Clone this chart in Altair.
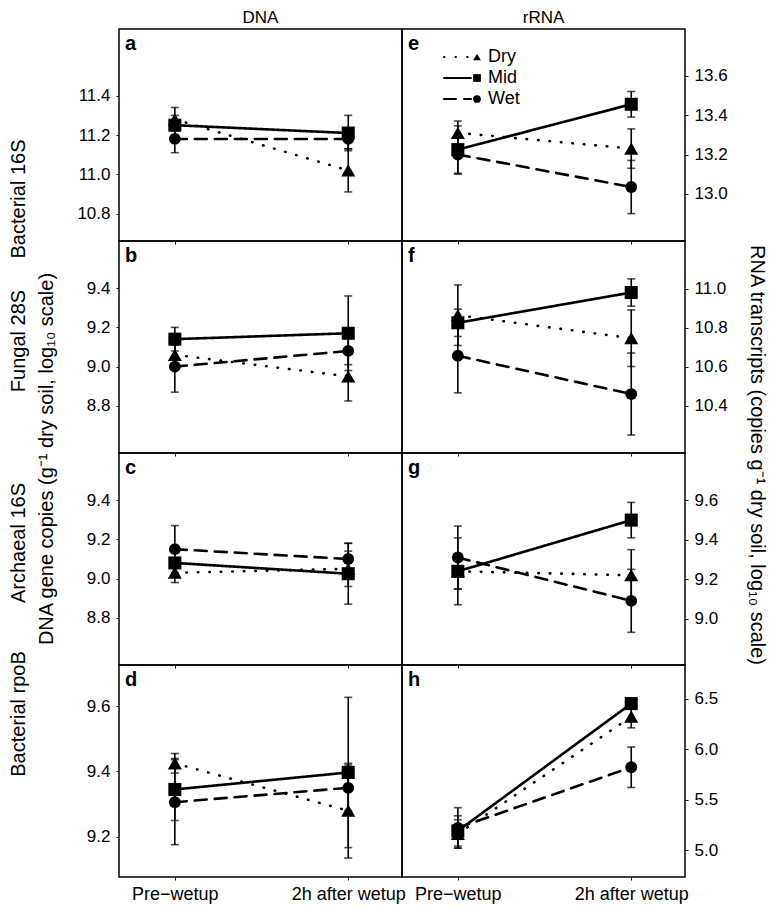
import altair as alt
import pandas as pd

# ---------------- data ----------------
TIME_POS = [1, 2]
TIME_LABELS = ["Pre\u2212wetup", "2h after wetup"]
SERIES = ["Dry", "Mid", "Wet"]
ROW_LABELS = ["Bacterial 16S", "Fungal 28S", "Archaeal 16S", "Bacterial rpoB"]
COL_TITLES = ["DNA", "rRNA"]
LEFT_TITLE = "DNA gene copies (g\u207b\u00b9 dry soil, log\u2081\u2080 scale)"
RIGHT_TITLE = "RNA transcripts (copies g\u207b\u00b9 dry soil, log\u2081\u2080 scale)"

# means / error half-widths: rows = Dry, Mid, Wet ; columns = Pre-wetup, 2h after wetup
a_mean = [[11.28, 11.02], [11.25, 11.21], [11.18, 11.18]]
a_err = [[0.06, 0.11], [0.05, 0.09], [0.07, 0.05]]
b_mean = [[9.06, 8.95], [9.14, 9.17], [9.00, 9.08]]
b_err = [[0.05, 0.125], [0.06, 0.19], [0.13, 0.07]]
c_mean = [[9.03, 9.05], [9.08, 9.025], [9.15, 9.10]]
c_err = [[0.05, 0.09], [0.06, 0.155], [0.12, 0.08]]
d_mean = [[9.425, 9.28], [9.345, 9.397], [9.306, 9.35]]
d_err = [[0.03, 0.145], [0.095, 0.23], [0.13, 0.07]]
e_mean = [[13.31, 13.23], [13.225, 13.455], [13.20, 13.035]]
e_err = [[0.06, 0.10], [0.12, 0.065], [0.10, 0.135]]
f_mean = [[10.864, 10.746], [10.825, 10.98], [10.656, 10.46]]
f_err = [[0.155, 0.145], [0.07, 0.07], [0.19, 0.21]]
g_mean = [[9.24, 9.22], [9.24, 9.50], [9.31, 9.09]]
g_err = [[0.09, 0.13], [0.17, 0.09], [0.16, 0.16]]
h_mean = [[5.16, 6.32], [5.19, 6.45], [5.22, 5.82]]
h_err = [[0.14, 0.11], [0.15, 0.05], [0.20, 0.20]]

a_ticks = [10.8, 11.0, 11.2, 11.4]
b_ticks = [8.8, 9.0, 9.2, 9.4]
c_ticks = [8.8, 9.0, 9.2, 9.4]
d_ticks = [9.2, 9.4, 9.6]
e_ticks = [13.0, 13.2, 13.4, 13.6]
f_ticks = [10.4, 10.6, 10.8, 11.0]
g_ticks = [9.0, 9.2, 9.4, 9.6]
h_ticks = [5.0, 5.5, 6.0, 6.5]

a_dom = [10.66, 11.74]
b_dom = [8.56, 9.64]
c_dom = [8.56, 9.64]
d_dom = [9.077, 9.726]
e_dom = [12.761, 13.837]
f_dom = [10.158, 11.244]
g_dom = [8.764, 9.841]
h_dom = [4.734, 6.832]
X_DOM = [0.678, 2.31]

# ---------------- layout constants ----------------
W, H = 283, 212
FONT = "Liberation Sans"
DASHES = [[0.5, 11], [1, 0], [12, 8]]
SHAPES = ["triangle-up", "square", "circle"]
SIZES = [200, 140, 160]

dash_scale = alt.Scale(domain=SERIES, range=DASHES)
shape_scale = alt.Scale(domain=SERIES, range=SHAPES)
size_scale = alt.Scale(domain=SERIES, range=SIZES)

label_expr = f"datum.value == {TIME_POS[0]} ? '{TIME_LABELS[0]}' : '{TIME_LABELS[1]}'"


def text_layer(label, x, y, size=18, weight="normal", angle=0, align="center", font=FONT):
    return alt.Chart(pd.DataFrame({"label": [label]})).mark_text(
        fontSize=size, fontWeight=weight, angle=angle, align=align,
        baseline="middle", color="black", font=font
    ).encode(x=alt.value(x), y=alt.value(y), text="label:N")


def panel(letter, mean, err, dom, ticks, right, bottom, extras=(), legend=False):
    rows = []
    for si, s in enumerate(SERIES):
        for ti, t in enumerate(TIME_POS):
            m = mean[si][ti]
            e = err[si][ti]
            rows.append({"series": s, "t": t, "mean": m, "lo": m - e, "hi": m + e})
    df = pd.DataFrame(rows)

    xs = alt.Scale(domain=X_DOM, nice=False, zero=False)
    ys = alt.Scale(domain=dom, nice=False, zero=False)
    xaxis = alt.Axis(values=TIME_POS, labelExpr=label_expr, labels=bottom, title=None,
                     grid=False, domain=False, tickSize=3, labelPadding=5,
                     labelFontSize=18, labelFont=FONT, labelColor="black",
                     tickColor="black", labelFlush=False)
    yaxis = alt.Axis(values=ticks, format=".1f", orient="right" if right else "left",
                     title=None, grid=False, domain=False, tickSize=3, labelPadding=6,
                     labelFontSize=17, labelFont=FONT, labelColor="black", tickColor="black")

    base = alt.Chart(df)
    errb = base.mark_errorbar(ticks={"size": 8}, thickness=1.6, color="black").encode(
        x=alt.X("t:Q", scale=xs, axis=xaxis),
        y=alt.Y("lo:Q", scale=ys, axis=yaxis),
        y2="hi:Q",
    )
    line = base.mark_line(color="black", strokeWidth=2.6, strokeCap="round").encode(
        x=alt.X("t:Q", scale=xs, axis=xaxis),
        y=alt.Y("mean:Q", scale=ys, axis=yaxis),
        strokeDash=alt.StrokeDash("series:N", scale=dash_scale, legend=None),
    )
    pts = base.mark_point(filled=True, color="black", opacity=1).encode(
        x=alt.X("t:Q", scale=xs, axis=xaxis),
        y=alt.Y("mean:Q", scale=ys, axis=yaxis),
        shape=alt.Shape("series:N", scale=shape_scale, legend=None),
        size=alt.Size("series:N", scale=size_scale, legend=None),
    )
    layers = [errb, line, pts, text_layer(letter, 6, 15, size=20, weight="bold", align="left")]
    layers += list(extras)
    main = alt.layer(*layers)

    if legend:
        leg_df = pd.DataFrame({"series": SERIES})
        ly = alt.Scale(type="point", domain=SERIES, range=[28, 70], padding=0)
        lb = alt.Chart(leg_df)
        leg_line = lb.mark_rule(color="black", strokeWidth=2, strokeCap="round").encode(
            x=alt.value(42), x2=alt.value(69),
            y=alt.Y("series:N", scale=ly, axis=None),
            strokeDash=alt.StrokeDash("series:N", scale=dash_scale, legend=None),
        )
        leg_pt = lb.mark_point(filled=True, color="black", opacity=1, size=60).encode(
            x=alt.value(75),
            y=alt.Y("series:N", scale=ly, axis=None),
            shape=alt.Shape("series:N", scale=shape_scale, legend=None),
        )
        leg_txt = lb.mark_text(fontSize=18, align="left", baseline="middle", color="black", font=FONT).encode(
            x=alt.value(86),
            y=alt.Y("series:N", scale=ly, axis=None),
            text="series:N",
        )
        legend_layer = alt.layer(leg_line, leg_pt, leg_txt)
        main = alt.layer(main, legend_layer).resolve_scale(y="independent")

    return main.properties(width=W, height=H)


panels = [
    panel("a", a_mean, a_err, a_dom, a_ticks, False, False,
          extras=[text_layer(COL_TITLES[0], W / 2, -11, size=17),
                  text_layer(ROW_LABELS[0], -100, 170, size=20, angle=270)]),
    panel("e", e_mean, e_err, e_dom, e_ticks, True, False,
          extras=[text_layer(COL_TITLES[1], W / 2, -11, size=17)], legend=True),
    panel("b", b_mean, b_err, b_dom, b_ticks, False, False,
          extras=[text_layer(ROW_LABELS[1], -100, 100, size=20, angle=270),
                  text_layer(LEFT_TITLE, -72, 218, size=20, angle=270)]),
    panel("f", f_mean, f_err, f_dom, f_ticks, True, False,
          extras=[text_layer(RIGHT_TITLE, W + 72, 214, size=20, angle=90)]),
    panel("c", c_mean, c_err, c_dom, c_ticks, False, False,
          extras=[text_layer(ROW_LABELS[2], -100, 90, size=20, angle=270)]),
    panel("g", g_mean, g_err, g_dom, g_ticks, True, False),
    panel("d", d_mean, d_err, d_dom, d_ticks, False, True,
          extras=[text_layer(ROW_LABELS[3], -100, 49, size=20, angle=270)]),
    panel("h", h_mean, h_err, h_dom, h_ticks, True, True),
]

chart = alt.concat(
    *panels, columns=2, spacing=0, bounds="flush", padding=0, background="white"
).configure_view(stroke="black", strokeWidth=1.5)

chart.save("out.html", embed_options={"renderer": "svg", "actions": False})
